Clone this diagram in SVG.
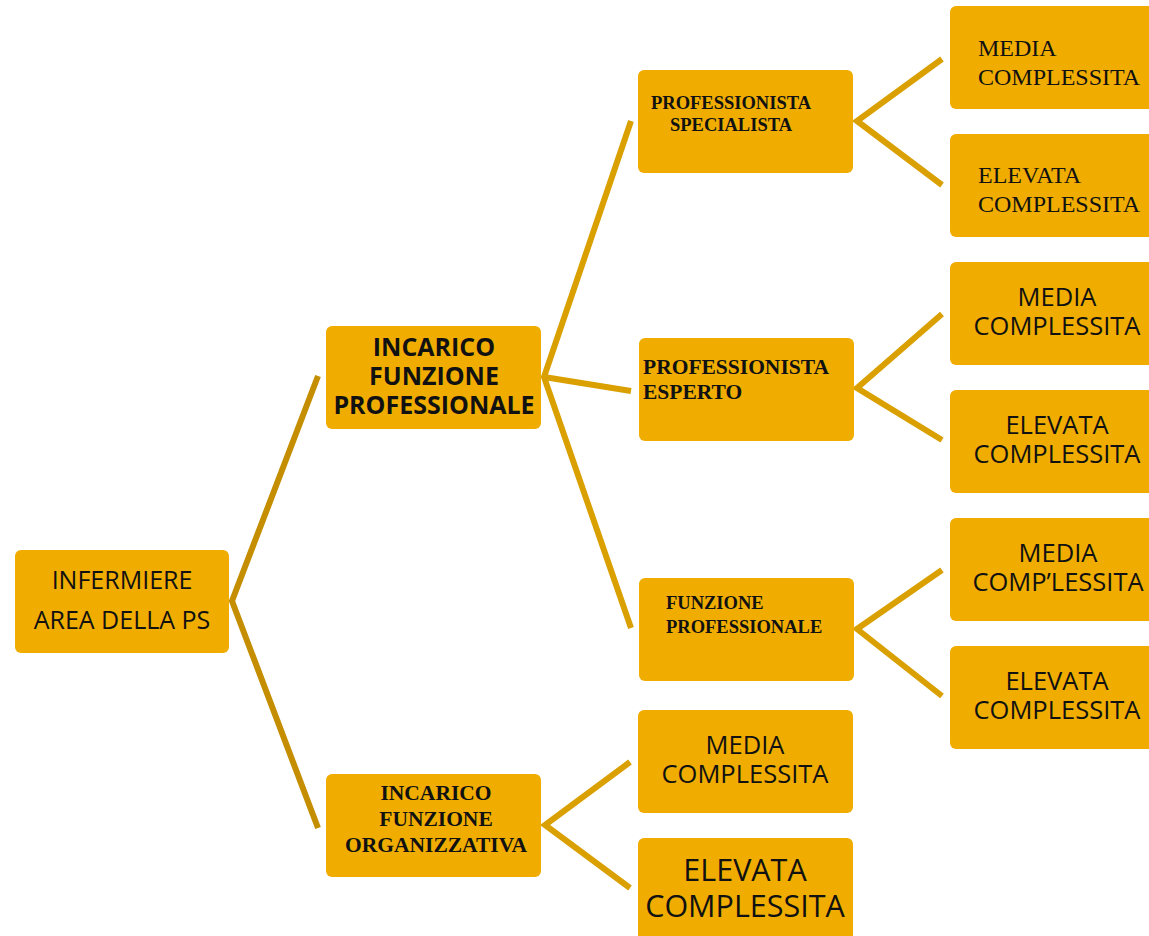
<svg xmlns="http://www.w3.org/2000/svg" width="1149" height="936" viewBox="0 0 1149 936">
<style>
.box{fill:#F0AD00}
.sans{font-family:"Open Sans","Noto Sans","DejaVu Sans",sans-serif;fill:#111}
.serif{font-family:"Liberation Serif","Times New Roman",serif;fill:#111}
.c1{fill:none;stroke:#C48E00;stroke-width:6}
.c2{fill:none;stroke:#D9A000;stroke-width:6}
</style>
<rect width="1149" height="936" fill="#fff"/>
<g id="connectors">
<polyline class="c1" points="318,376 232,601 318,828"/>
<polyline class="c2" points="631,121 544,377 631,628"/>
<line class="c2" x1="544" y1="377" x2="631" y2="391"/>
<polyline class="c2" points="942,59 857,121 942,185"/>
<polyline class="c2" points="942,314 857,388 942,440"/>
<polyline class="c2" points="942,570 857,629 942,696"/>
<polyline class="c2" points="630,762 545,825 630,888"/>
</g>
<g id="infermiere">
<rect class="box" x="15" y="550" width="214" height="103" rx="6"/>
<text class="sans" font-size="25" text-anchor="middle" x="122" y="589">INFERMIERE</text>
<text class="sans" font-size="25" text-anchor="middle" x="122" y="629">AREA DELLA PS</text>
</g>
<g id="ifp">
<rect class="box" x="326" y="326" width="215" height="103" rx="6"/>
<text class="sans" font-size="25" font-weight="bold" text-anchor="middle" x="434" y="356">INCARICO</text>
<text class="sans" font-size="25" font-weight="bold" text-anchor="middle" x="434" y="385">FUNZIONE</text>
<text class="sans" font-size="25" font-weight="bold" text-anchor="middle" x="434" y="414">PROFESSIONALE</text>
</g>
<g id="ifo">
<rect class="box" x="326" y="774" width="215" height="103" rx="6"/>
<text class="serif" font-size="21.5" font-weight="bold" text-anchor="middle" x="436" y="800">INCARICO</text>
<text class="serif" font-size="21.5" font-weight="bold" text-anchor="middle" x="436" y="826">FUNZIONE</text>
<text class="serif" font-size="21.5" font-weight="bold" text-anchor="middle" x="436" y="852">ORGANIZZATIVA</text>
</g>
<g id="ps">
<rect class="box" x="638" y="70" width="215" height="103" rx="6"/>
<text class="serif" font-size="18.5" font-weight="bold" x="651" y="109">PROFESSIONISTA</text>
<text class="serif" font-size="18.5" font-weight="bold" x="670" y="131">SPECIALISTA</text>
</g>
<g id="pe">
<rect class="box" x="639" y="338" width="215" height="103" rx="6"/>
<text class="serif" font-size="21.5" font-weight="bold" x="643" y="374">PROFESSIONISTA</text>
<text class="serif" font-size="21.5" font-weight="bold" x="643" y="399">ESPERTO</text>
</g>
<g id="fp">
<rect class="box" x="639" y="578" width="215" height="103" rx="6"/>
<text class="serif" font-size="18.5" font-weight="bold" x="666" y="609">FUNZIONE</text>
<text class="serif" font-size="18.5" font-weight="bold" x="666" y="633">PROFESSIONALE</text>
</g>
<g id="org-media">
<rect class="box" x="638" y="710" width="215" height="103" rx="6"/>
<text class="sans" font-size="25.5" text-anchor="middle" x="745" y="754">MEDIA</text>
<text class="sans" font-size="25.5" text-anchor="middle" x="745" y="783">COMPLESSITA</text>
</g>
<g id="org-elevata">
<rect class="box" x="638" y="838" width="215" height="110" rx="6"/>
<text class="sans" font-size="30.5" text-anchor="middle" x="745" y="881">ELEVATA</text>
<text class="sans" font-size="30.5" text-anchor="middle" x="745" y="917">COMPLESSITA</text>
</g>
<g id="ps-media">
<rect class="box" x="950" y="6" width="210" height="103" rx="6"/>
<text class="serif" font-size="24" x="978" y="56">MEDIA</text>
<text class="serif" font-size="24" x="978" y="85">COMPLESSITA</text>
</g>
<g id="ps-elevata">
<rect class="box" x="950" y="134" width="210" height="103" rx="6"/>
<text class="serif" font-size="24" x="978" y="183">ELEVATA</text>
<text class="serif" font-size="24" x="978" y="212">COMPLESSITA</text>
</g>
<g id="pe-media">
<rect class="box" x="950" y="262" width="210" height="103" rx="6"/>
<text class="sans" font-size="25.5" text-anchor="middle" x="1057" y="306">MEDIA</text>
<text class="sans" font-size="25.5" text-anchor="middle" x="1057" y="335">COMPLESSITA</text>
</g>
<g id="pe-elevata">
<rect class="box" x="950" y="390" width="210" height="103" rx="6"/>
<text class="sans" font-size="25.5" text-anchor="middle" x="1057" y="434">ELEVATA</text>
<text class="sans" font-size="25.5" text-anchor="middle" x="1057" y="463">COMPLESSITA</text>
</g>
<g id="fp-media">
<rect class="box" x="950" y="518" width="210" height="103" rx="6"/>
<text class="sans" font-size="25.5" text-anchor="middle" x="1058" y="562">MEDIA</text>
<text class="sans" font-size="25.5" text-anchor="middle" x="1058" y="591">COMP’LESSITA</text>
</g>
<g id="fp-elevata">
<rect class="box" x="950" y="646" width="210" height="103" rx="6"/>
<text class="sans" font-size="25.5" text-anchor="middle" x="1057" y="690">ELEVATA</text>
<text class="sans" font-size="25.5" text-anchor="middle" x="1057" y="719">COMPLESSITA</text>
</g>
</svg>
